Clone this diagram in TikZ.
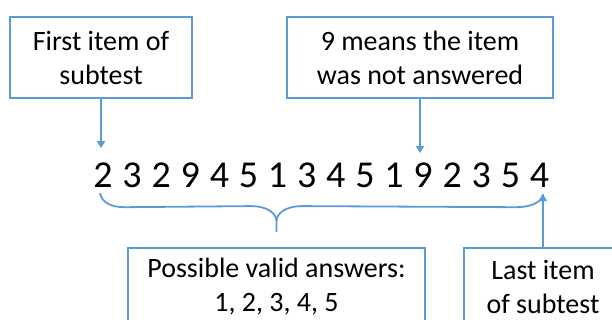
\documentclass[tikz,border=0pt]{standalone}
\usepackage{fontspec}
\setmainfont{Carlito}
\usetikzlibrary{calc,arrows.meta}
\definecolor{boxblue}{RGB}{91,155,213}

\begin{document}
\begin{tikzpicture}[
  x=1pt, y=-1pt,
  note/.style={draw=boxblue, line width=1.8pt, align=center, inner sep=0pt,
    font=\fontsize{28}{34}\selectfont},
  digit/.style={inner sep=0pt, anchor=base, font=\fontsize{38}{38}\selectfont},
  link/.style={draw=boxblue, line width=1.8pt, -{Triangle[width=8pt,length=7pt]}},
  brace/.style={draw=boxblue, line width=1.8pt}
]
\useasboundingbox (0,0) rectangle (612,320);
\clip (0,0) rectangle (612,320);

\node[note, minimum width=182pt, minimum height=81pt] (first) at (101,57.5)
  {First item of\\subtest};
\node[note, minimum width=266pt, minimum height=81pt] (missing) at (420,57.5)
  {9 means the item\\was not answered};
\node[note, minimum width=297pt, minimum height=77pt] (valid) at (276.5,286.5)
  {Possible valid answers:\\1, 2, 3, 4, 5};
\node[note, minimum width=158pt, minimum height=77pt] (last) at (543,286.5)
  {Last item\\of subtest};

\foreach \d [count=\i] in {2,3,2,9,4,5,1,3,4,5,1,9,2,3,5,4}
  \node[digit] (d\i) at ({103+29.1*(\i-1)},188) {\d};

\draw[link, shorten >=15pt] (first.south) -- (first.south |- d1.north);
\draw[link, shorten >=10pt] (missing.south) -- (missing.south |- d12.north);
\draw[link, shorten >=6pt] (last.north) -- (last.north |- d16.south);

\coordinate (tip) at ($(valid.north)+(0,-15)$);
\draw[brace] ($(d1.south)+(-3,5)$) .. controls +(2,9) and +(-15,0) .. ++(25,14)
  -- ($(tip)+(-26,-26)$) .. controls +(18,0) and +(0,-7) .. ($(tip)+(0,-11)$)
  -- (tip);
\draw[brace] ($(tip)+(0,-11)$) .. controls +(0,-7) and +(-18,0) .. ($(tip)+(26,-26)$)
  -- ($(last.north |- d16.south)+(-28,19)$)
  .. controls +(20,0) and +(-1,6) .. ($(last.north |- d16.south)+(0,6)$);
\end{tikzpicture}
\end{document}
